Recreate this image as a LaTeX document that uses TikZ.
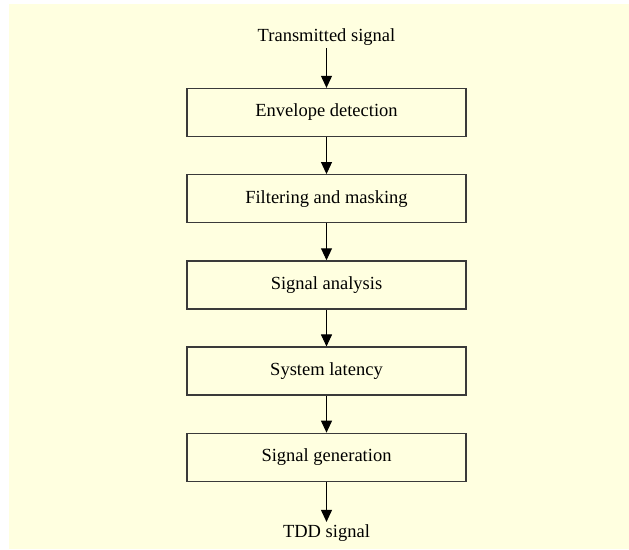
\documentclass[tikz,border=0pt]{standalone}
\usepackage{fontspec}
\setmainfont{Liberation Serif}
\usetikzlibrary{arrows.meta}
\definecolor{bgyellow}{HTML}{FFFFE0}
\definecolor{boxline}{HTML}{3A3A3A}
\begin{document}
\begin{tikzpicture}[x=1pt,y=-1pt,
  font=\fontsize{18.5}{22}\selectfont,
  stagebox/.style={draw=boxline,line width=1.3pt,minimum width=279pt,minimum height=48pt,inner sep=0pt},
  label text/.style={inner sep=2.5pt},
  flow/.style={line width=1pt,-{Triangle[width=11pt,length=12pt]}}]
\useasboundingbox (0,0) rectangle (629,549);
\fill[bgyellow] (9,4) rectangle (629,549);
\node[label text] (ts) at (326.5,37) {Transmitted signal};
\node[stagebox] (b1) at (326.5,112.5) {Envelope detection};
\node[stagebox] (b2) at (326.5,198.7) {Filtering and masking};
\node[stagebox] (b3) at (326.5,284.9) {Signal analysis};
\node[stagebox] (b4) at (326.5,371.1) {System latency};
\node[stagebox] (b5) at (326.5,457.3) {Signal generation};
\node[label text] (tdd) at (326.5,533) {TDD signal};
\draw[flow] (ts) -- (b1);
\draw[flow] (b1) -- (b2);
\draw[flow] (b2) -- (b3);
\draw[flow] (b3) -- (b4);
\draw[flow] (b4) -- (b5);
\draw[flow] (b5) -- (tdd);
\end{tikzpicture}
\end{document}
